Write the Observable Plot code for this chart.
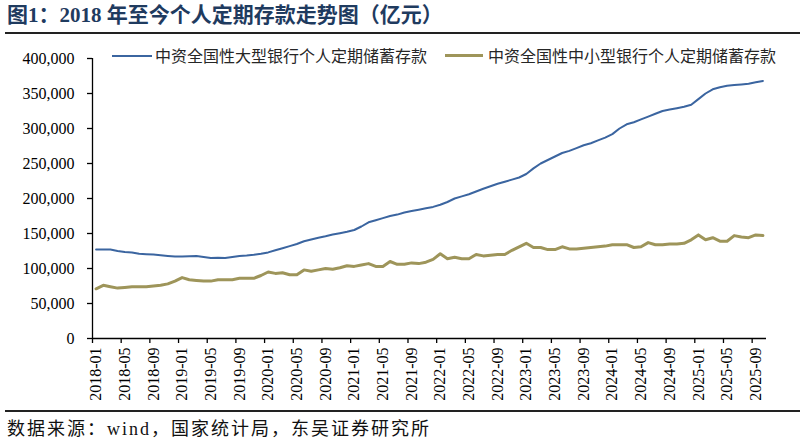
<!DOCTYPE html>
<html><head><meta charset="utf-8">
<script src="https://cdn.jsdelivr.net/npm/d3@7"></script>
<script src="https://cdn.jsdelivr.net/npm/@observablehq/plot@0.6"></script>
<style>
body{margin:0;background:#fff;}
#wrap{position:relative;width:805px;height:445px;overflow:hidden;background:#fff;}
#title{position:absolute;left:7px;top:4px;font-weight:bold;font-size:21px;font-family:"Liberation Serif","Noto Sans CJK SC";color:#1F3B5F;white-space:nowrap;line-height:23px;}
.hr{position:absolute;left:5px;width:795px;height:2px;background:#222;}
.sw{position:absolute;height:0;}
.lt{position:absolute;font-size:16px;line-height:18px;font-family:"Noto Sans CJK SC";color:#262626;white-space:nowrap;}
#src{position:absolute;left:7px;top:418px;font-size:18px;line-height:22px;font-family:"Liberation Serif","Noto Sans CJK SC";color:#111;white-space:nowrap;letter-spacing:2px;}
#chart{position:absolute;left:0;top:40px;}
</style></head>
<body><div id="wrap">
<div id="title">图1：2018 年至今个人定期存款走势图（亿元）</div>
<div class="hr" style="top:32px"></div>
<div id="chart"></div>
<div class="sw" style="left:112px;top:55px;width:40px;border-top:2px solid #3B65A0"></div>
<div class="lt" style="left:155px;top:46px">中资全国性大型银行个人定期储蓄存款</div>
<div class="sw" style="left:445px;top:54px;width:38px;border-top:3px solid #9E955A"></div>
<div class="lt" style="left:488px;top:46px">中资全国性中小型银行个人定期储蓄存款</div>
<div class="hr" style="top:410px"></div>
<div id="src">数据来源：wind，国家统计局，东吴证券研究所</div>
</div>
<script>
const months = [];
for (let y = 2018; y <= 2025; y++) for (let m = 1; m <= 12; m++) {
  if (y === 2025 && m > 10) break;
  months.push(y + "-" + String(m).padStart(2, "0"));
}
const tickLabels = ["2018-01","2018-05","2018-09","2019-01","2019-05","2019-09","2020-01","2020-05","2020-09","2021-01","2021-05","2021-09","2022-01","2022-05","2022-09","2023-01","2023-05","2023-09","2024-01","2024-05","2024-09","2025-01","2025-05","2025-09"];
const yTicks = [0,50000,100000,150000,200000,250000,300000,350000,400000];
const large = [127000,127000,127000,125000,123500,123000,121000,120500,120000,119000,118000,117000,
117000,117500,118000,116500,115000,115500,115000,116500,118000,118500,119500,121000,
123000,126000,129000,132000,135000,139000,141500,144000,146000,148500,150500,152500,
155000,160000,166000,169000,172000,175000,177000,180000,182000,184000,186000,188000,
191000,195000,200000,203000,206000,210000,214000,217500,221000,224000,227000,230000,
235000,243000,250000,255000,260000,265000,268000,272000,276000,279000,283000,287000,
292000,300000,306000,309000,313000,317000,321000,325000,327000,329000,331000,334000,
342000,350000,356000,359000,361000,362000,363000,364000,366000,368000];
const small = [71000,76000,74000,72000,73000,74000,74000,74000,75000,76000,78000,82000,
87000,84000,83000,82000,82000,84000,84000,84000,86000,86000,86000,90000,
95000,93000,94000,91000,91000,98000,96000,98000,100000,99000,101000,104000,
103000,105000,107000,103000,103000,110000,106000,106000,108000,107000,109000,113000,
121000,114000,116000,114000,114000,120000,118000,119000,120000,120000,126000,131000,
136000,130000,130000,127000,127000,131000,128000,128000,129000,130000,131000,132000,
134000,134000,134000,130000,131000,137000,134000,134000,135000,135000,136000,141000,
148000,141000,144000,139000,139000,147000,145000,144000,148000,147000];

const tickIdx = tickLabels.map(l => months.indexOf(l));
const rowsL = large.map((v, i) => ({i, v}));
const rowsS = small.map((v, i) => ({i, v}));

const chart = Plot.plot({
  width: 805, height: 365,
  marginLeft: 92, marginRight: 39, marginTop: 18, marginBottom: 67,
  x: {type: "linear", domain: [-0.5, months.length - 0.5], axis: null},
  y: {domain: [0, 400000], axis: null},
  style: {fontFamily: "Liberation Serif", fontSize: "16px", color: "#000", background: "transparent"},
  marks: [
    Plot.axisY({ticks: yTicks, tickFormat: d3.format(","), tickSize: 5, tickPadding: 13, fontSize: 16, stroke: "#000", strokeWidth: 1.3, fill: "#000", label: null}),
    Plot.axisX({ticks: tickIdx.map(i => i - 0.5), tickFormat: () => "", tickSize: 5, stroke: "#000", strokeWidth: 1.3, label: null}),
    Plot.axisX({ticks: tickIdx, tickFormat: i => months[i], tickSize: 0, tickPadding: 9, tickRotate: -90, fontSize: 16, fill: "#000", label: null}),
    Plot.ruleY([0], {stroke: "#000", strokeWidth: 1.3}),
    Plot.ruleX([-0.5], {stroke: "#000", strokeWidth: 1.3}),
    Plot.line(rowsS, {x: "i", y: "v", stroke: "#9E955A", strokeWidth: 3}),
    Plot.line(rowsL, {x: "i", y: "v", stroke: "#3B65A0", strokeWidth: 2})
  ]
});
document.getElementById("chart").appendChild(chart);
</script>
</body></html>
